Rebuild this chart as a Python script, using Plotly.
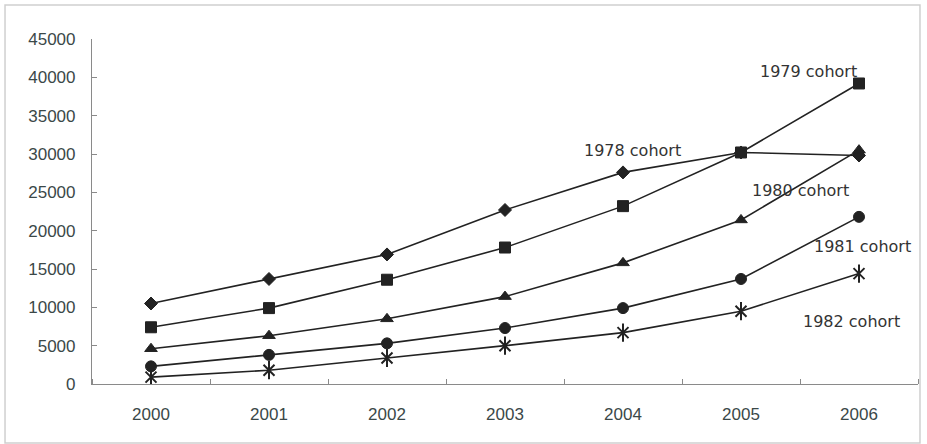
import plotly.graph_objects as go

# Survey years and cohort series
years = [2000, 2001, 2002, 2003, 2004, 2005, 2006]
cohort_1978 = [10500, 13700, 16900, 22700, 27600, 30200, 29800]
cohort_1979 = [7400, 9900, 13600, 17800, 23200, 30200, 39200]
cohort_1980 = [4600, 6300, 8500, 11400, 15800, 21400, 30500]
cohort_1981 = [2300, 3800, 5300, 7300, 9900, 13700, 21800]
cohort_1982 = [900, 1800, 3400, 5000, 6700, 9500, 14400]

y_ticks = [0, 5000, 10000, 15000, 20000, 25000, 30000, 35000, 40000, 45000]

# Label text and where it sits (year, value)
label_text = ["1978 cohort", "1979 cohort", "1980 cohort", "1981 cohort", "1982 cohort"]
label_x = [2004.08, 2005.57, 2005.5, 2006.03, 2005.94]
label_y = [30500, 40800, 25300, 17900, 8200]

LINE = "#222222"
TXT = "#3b4848"

fig = go.Figure()

def add_series(y, symbol, size):
    fig.add_trace(go.Scatter(
        x=years, y=y, mode="lines+markers",
        line=dict(color=LINE, width=1.6),
        marker=dict(symbol=symbol, size=size, color=LINE,
                    line=dict(color=LINE, width=1)),
        showlegend=False, hoverinfo="x+y",
    ))

add_series(cohort_1978, "diamond", 10)
add_series(cohort_1979, "square", 11)
add_series(cohort_1980, "triangle-up", 11)
add_series(cohort_1981, "circle", 11)
# star marker: an x with a vertical stroke through it
fig.add_trace(go.Scatter(
    x=years, y=cohort_1982, mode="lines+markers",
    line=dict(color=LINE, width=1.6),
    marker=dict(symbol="x-thin-open", size=11, color=LINE,
                line=dict(color=LINE, width=2)),
    showlegend=False, hoverinfo="x+y",
))
fig.add_trace(go.Scatter(
    x=years, y=cohort_1982, mode="markers",
    marker=dict(symbol="line-ns-open", size=13, color=LINE,
                line=dict(color=LINE, width=2)),
    showlegend=False, hoverinfo="skip",
))

for t, lx, ly in zip(label_text, label_x, label_y):
    fig.add_annotation(x=lx, y=ly, text=t, showarrow=False,
                       xanchor="center", yanchor="middle",
                       font=dict(family="DejaVu Sans", size=16, color="#333333"))

# light frame around the whole chart
fig.add_shape(type="rect", xref="paper", yref="paper",
              x0=-0.1053, x1=1.0024, y0=-0.171, y1=1.0986,
              line=dict(color="#cfcfcf", width=1.5), layer="below")

fig.update_layout(
    width=927, height=444,
    margin=dict(l=92, r=9, t=39, b=60),
    paper_bgcolor="white", plot_bgcolor="white",
    font=dict(family="Liberation Sans", size=17, color=TXT),
    xaxis=dict(
        range=[1999.5, 2006.5], tickmode="array", tickvals=years,
        ticktext=[str(v) for v in years], ticks="", showgrid=False,
        zeroline=False, showline=True, linecolor="#8a8a8a", linewidth=1.2,
        ticklabelstandoff=14,
        minor=dict(tickvals=[1999.5 + i for i in range(8)], ticks="inside",
                   ticklen=5, tickcolor="#8a8a8a", showgrid=False),
        fixedrange=True,
    ),
    yaxis=dict(
        range=[0, 45000], tickmode="array", tickvals=y_ticks,
        ticktext=[str(v) for v in y_ticks], ticks="inside", ticklen=5,
        tickcolor="#8a8a8a", showgrid=False, zeroline=False,
        showline=True, linecolor="#8a8a8a", linewidth=1.2,
        ticklabelstandoff=12, fixedrange=True,
    ),
)

fig.write_html("out.html")
